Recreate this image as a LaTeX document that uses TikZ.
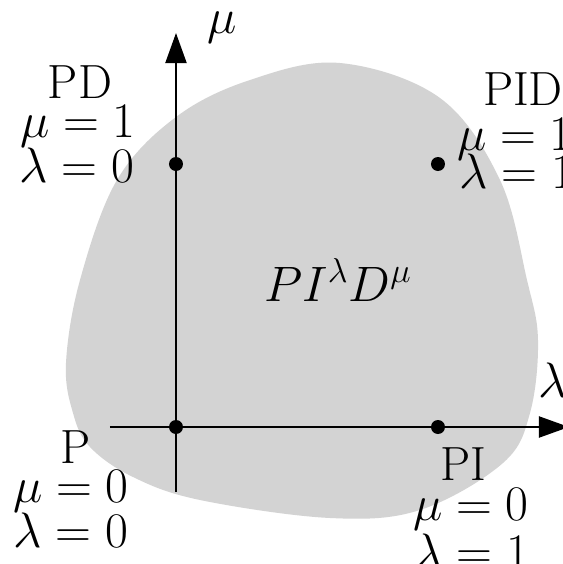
\documentclass[tikz,border=0pt]{standalone}
\usetikzlibrary{arrows.meta}
\definecolor{regiongray}{RGB}{211,211,211}
\begin{document}
\begin{tikzpicture}[x=0.5pt,y=0.5pt,
  lbl/.style={anchor=base,inner sep=0pt,font=\fontsize{24}{28}\selectfont},
  axislbl/.style={inner sep=0pt,font=\fontsize{24}{28}\selectfont},
  axis/.style={line width=1pt,-{Triangle[length=15pt,width=10.5pt]}},
  dot/.style={circle,fill=black,inner sep=0pt,minimum size=7pt}]
  \useasboundingbox (-176,-137) rectangle (387,427);
  % region of the fractional controllers
  \fill[regiongray] plot[smooth cycle,tension=0.6] coordinates {
    (164,364) (264,329) (324,247) (351,147) (362,87) (354,14)
    (327,-36) (244,-83) (154,-91) (24,-73) (-43,-50) (-86,-20)
    (-103,14) (-110,64) (-96,147) (-59,247) (0,310) (74,347)};
  % axes
  \coordinate (xstart) at (-66,0);
  \coordinate (xend) at (393,0);
  \coordinate (ystart) at (0,-65);
  \coordinate (yend) at (0,394);
  \draw[axis] (xstart) -- (xend);
  \draw[axis] (ystart) -- (yend);
  \node[axislbl] (lambdaaxis) at (377,47) {$\lambda$};
  \node[axislbl] (muaxis) at (46,399) {$\mu$};
  % the four classical controllers
  \node[dot] (p) at (0,0) {};
  \node[dot] (pi) at (262,0) {};
  \node[dot] (pd) at (0,263) {};
  \node[dot] (pid) at (262,263) {};
  % their labels
  \node[lbl] (pname) at (-100,-36) {P};
  \node[lbl] (pmu) at (-105,-75) {$\mu=0$};
  \node[lbl] (plambda) at (-105,-120) {$\lambda=0$};
  \node[lbl] (piname) at (287,-53) {PI};
  \node[lbl] (pimu) at (295,-93) {$\mu=0$};
  \node[lbl] (pilambda) at (296,-141) {$\lambda=1$};
  \node[lbl] (pdname) at (-96,329) {PD};
  \node[lbl] (pdmu) at (-98,290) {$\mu=1$};
  \node[lbl] (pdlambda) at (-99,245) {$\lambda=0$};
  \node[lbl] (pidname) at (347,322) {PID};
  \node[lbl] (pidmu) at (339,277) {$\mu=1$};
  \node[lbl] (pidlambda) at (341,239) {$\lambda=1$};
  % the general controller
  \node[lbl] (general) at (162,126) {$PI^{\lambda}D^{\mu}$};
\end{tikzpicture}
\end{document}
